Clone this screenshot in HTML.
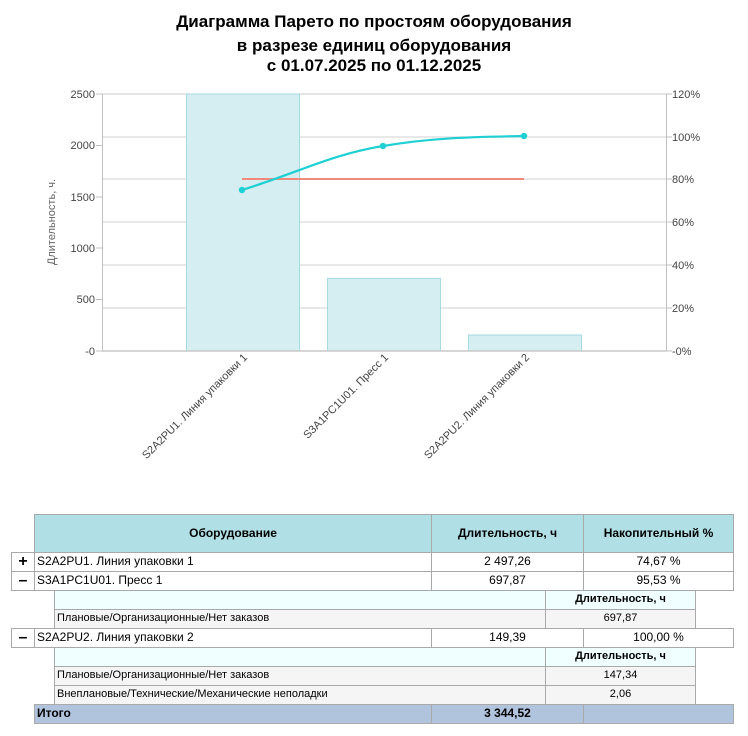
<!DOCTYPE html>
<html><head><meta charset="utf-8">
<style>
body{margin:0;width:748px;height:736px;background:#fff;position:relative;overflow:hidden;font-family:"Liberation Sans","Noto Sans CJK SC",sans-serif}
.t{position:absolute;left:0;width:748px;text-align:center;font-weight:bold;font-size:17px;color:#000}
.c{position:absolute;box-sizing:border-box;border:1px solid #a9a9a9;font-size:12px;line-height:17px;white-space:nowrap;overflow:hidden}
.s{font-size:11px}
.b{font-weight:bold}
.ctr{text-align:center}
</style></head><body>
<div class="t" style="top:12px">Диаграмма Парето по простоям оборудования</div>
<div class="t" style="top:36px">в разрезе единиц оборудования</div>
<div class="t" style="top:56px">с 01.07.2025 по 01.12.2025</div>
<svg width="748" height="480" style="position:absolute;left:0;top:0" font-family="Liberation Sans, sans-serif">
<g stroke="#e0e0e0" stroke-width="1.5">
<line x1="102" x2="666" y1="137" y2="137"/><line x1="102" x2="666" y1="179" y2="179"/>
<line x1="102" x2="666" y1="222" y2="222"/><line x1="102" x2="666" y1="265" y2="265"/>
<line x1="102" x2="666" y1="308" y2="308"/>
</g>
<line x1="102" x2="666" y1="94" y2="94" stroke="#c8c8c8"/>
<g fill="#d5eef2" stroke="#a6dbe3" stroke-width="1">
<rect x="186.5" y="94" width="113" height="257"/>
<rect x="327.5" y="278.5" width="113" height="72.5"/>
<rect x="468.5" y="335" width="113" height="16"/>
</g>
<line x1="102" x2="666" y1="351" y2="351" stroke="#c8c8c8" stroke-width="1.5"/>
<line x1="102.5" x2="102.5" y1="94" y2="351" stroke="#c0c0c0"/>
<line x1="666.5" x2="666.5" y1="94" y2="351" stroke="#c0c0c0"/>
<g stroke="#c0c0c0"><line x1="96" x2="102" y1="94" y2="94"/><line x1="96" x2="102" y1="145.5" y2="145.5"/><line x1="96" x2="102" y1="197" y2="197"/><line x1="96" x2="102" y1="248" y2="248"/><line x1="96" x2="102" y1="299.5" y2="299.5"/><line x1="96" x2="102" y1="351" y2="351"/>
<line x1="666" x2="672" y1="94" y2="94"/><line x1="666" x2="672" y1="137" y2="137"/><line x1="666" x2="672" y1="179" y2="179"/><line x1="666" x2="672" y1="222" y2="222"/><line x1="666" x2="672" y1="265" y2="265"/><line x1="666" x2="672" y1="308" y2="308"/><line x1="666" x2="672" y1="351" y2="351"/></g>
<g font-size="11" fill="#444" text-anchor="end">
<text x="95" y="98">2500</text><text x="95" y="149">2000</text><text x="95" y="201">1500</text><text x="95" y="252">1000</text><text x="95" y="303">500</text><text x="95" y="355">-0</text>
</g>
<g font-size="11" fill="#444">
<text x="672" y="98">120%</text><text x="672" y="141">100%</text><text x="672" y="183">80%</text><text x="672" y="226">60%</text><text x="672" y="269">40%</text><text x="672" y="312">20%</text><text x="672" y="355">-0%</text>
</g>
<text transform="translate(55,222) rotate(-90)" font-size="11" fill="#666" text-anchor="middle">Длительность, ч.</text>
<line x1="242" x2="524" y1="179" y2="179" stroke="#f28a7c" stroke-width="2"/>
<path d="M242,190 C300,172 330,155 383,146 S480,137 524,136" fill="none" stroke="#1ecfd3" stroke-width="2.2"/>
<g fill="#1ecfd3"><circle cx="242" cy="190" r="3.2"/><circle cx="383" cy="146" r="3.2"/><circle cx="524" cy="136" r="3.2"/></g>
<g font-size="11" fill="#444" text-anchor="end">
<text transform="translate(248,358) rotate(-45)">S2A2PU1. Линия упаковки 1</text>
<text transform="translate(389,358) rotate(-45)">S3A1PC1U01. Пресс 1</text>
<text transform="translate(530,358) rotate(-45)">S2A2PU2. Линия упаковки 2</text>
</g>
</svg>

<!-- header -->
<div class="c b ctr" style="left:34px;top:514px;width:398px;height:39px;background:#b0e0e6;line-height:37px">Оборудование</div>
<div class="c b ctr" style="left:431px;top:514px;width:153px;height:39px;background:#b0e0e6;line-height:37px">Длительность, ч</div>
<div class="c b ctr" style="left:583px;top:514px;width:151px;height:39px;background:#b0e0e6;line-height:37px">Накопительный %</div>
<!-- row1 -->
<div class="c b ctr" style="left:11px;top:552px;width:24px;height:20px;font-size:16px;line-height:18px">+</div>
<div class="c" style="left:34px;top:552px;width:398px;height:20px;padding-left:2px">S2A2PU1. Линия упаковки 1</div>
<div class="c ctr" style="left:431px;top:552px;width:153px;height:20px">2 497,26</div>
<div class="c ctr" style="left:583px;top:552px;width:151px;height:20px">74,67 %</div>
<!-- row2 -->
<div class="c b ctr" style="left:11px;top:571px;width:24px;height:20px;font-size:16px;line-height:17px">–</div>
<div class="c" style="left:34px;top:571px;width:398px;height:20px;padding-left:2px">S3A1PC1U01. Пресс 1</div>
<div class="c ctr" style="left:431px;top:571px;width:153px;height:20px">697,87</div>
<div class="c ctr" style="left:583px;top:571px;width:151px;height:20px">95,53 %</div>
<div class="c" style="left:54px;top:590px;width:492px;height:20px;background:#f0ffff"></div>
<div class="c b ctr s" style="left:545px;top:590px;width:151px;height:20px;background:#f0ffff">Длительность, ч</div>
<div class="c s" style="left:54px;top:609px;width:492px;height:20px;background:#f5f5f5;padding-left:2px">Плановые/Организационные/Нет заказов</div>
<div class="c s ctr" style="left:545px;top:609px;width:151px;height:20px;background:#f5f5f5">697,87</div>
<!-- row3 -->
<div class="c b ctr" style="left:11px;top:628px;width:24px;height:20px;font-size:16px;line-height:17px">–</div>
<div class="c" style="left:34px;top:628px;width:398px;height:20px;padding-left:2px">S2A2PU2. Линия упаковки 2</div>
<div class="c ctr" style="left:431px;top:628px;width:153px;height:20px">149,39</div>
<div class="c ctr" style="left:583px;top:628px;width:151px;height:20px">100,00 %</div>
<div class="c" style="left:54px;top:647px;width:492px;height:20px;background:#f0ffff"></div>
<div class="c b ctr s" style="left:545px;top:647px;width:151px;height:20px;background:#f0ffff">Длительность, ч</div>
<div class="c s" style="left:54px;top:666px;width:492px;height:20px;background:#f5f5f5;padding-left:2px">Плановые/Организационные/Нет заказов</div>
<div class="c s ctr" style="left:545px;top:666px;width:151px;height:20px;background:#f5f5f5">147,34</div>
<div class="c s" style="left:54px;top:685px;width:492px;height:20px;background:#f5f5f5;padding-left:2px">Внеплановые/Технические/Механические неполадки</div>
<div class="c s ctr" style="left:545px;top:685px;width:151px;height:20px;background:#f5f5f5">2,06</div>
<!-- total -->
<div class="c b" style="left:34px;top:704px;width:398px;height:20px;background:#b0c4de;padding-left:2px">Итого</div>
<div class="c b ctr" style="left:431px;top:704px;width:153px;height:20px;background:#b0c4de">3 344,52</div>
<div class="c" style="left:583px;top:704px;width:151px;height:20px;background:#b0c4de"></div>
</body></html>
